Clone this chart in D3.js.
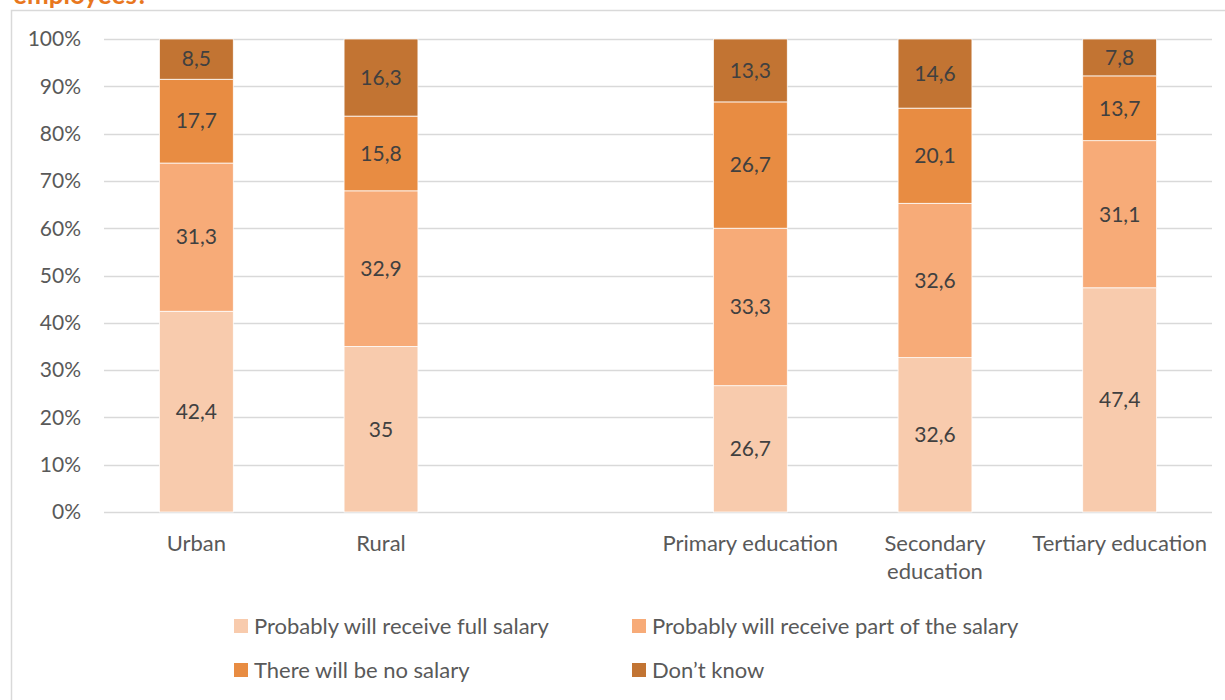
<!DOCTYPE html>
<html>
<head>
<meta charset="utf-8">
<script src="https://cdn.jsdelivr.net/npm/d3@7"></script>
<style>
  body { margin: 0; background: #fff; }
  svg { display: block; font-family: Lato, 'Open Sans', sans-serif; }
</style>
</head>
<body>
<div id="chart"></div>
<script>
const w = 1225, h = 700

// slots on the x axis, the empty one leaves the gap between the two groups
const slots = ['Urban', 'Rural', 'gap', 'Primary education', 'Secondary education', 'Tertiary education']
const categories = ['Urban', 'Rural', 'Primary education', 'Secondary education', 'Tertiary education']
const seriesNames = ['Probably will receive full salary', 'Probably will receive part of the salary', 'There will be no salary', 'Don\u2019t know']
const fullSalary = [42.4, 35, 26.7, 32.6, 47.4]
const partSalary = [31.3, 32.9, 33.3, 32.6, 31.1]
const noSalary = [17.7, 15.8, 26.7, 20.1, 13.7]
const dontKnow = [8.5, 16.3, 13.3, 14.6, 7.8]
const yTicks = [0, 0.1, 0.2, 0.3, 0.4, 0.5, 0.6, 0.7, 0.8, 0.9, 1]
const colors = ['#F8CBAD', '#F7AB78', '#E88C42', '#C27433']

const seriesValues = [fullSalary, partSalary, noSalary, dontKnow]
const rows = categories.map((c, i) => {
  const r = { category: c }
  seriesNames.forEach((s, j) => { r[s] = seriesValues[j][i] })
  return r
})

const margin = { left: 104, right: 13, top: 39, bottom: 188 }

const svg = d3.select('#chart').append('svg')
  .attr('width', w)
  .attr('height', h)

// outer frame
svg.append('rect')
  .attr('x', 11.5).attr('y', 10.5)
  .attr('width', 1240).attr('height', 720)
  .attr('fill', 'none')
  .attr('stroke', '#D9D9D9')
  .attr('stroke-width', 1.5)

// title, mostly cut off at the top like in the original
svg.append('text')
  .attr('x', 13).attr('y', 4)
  .attr('fill', '#E8771E')
  .attr('font-weight', 'bold')
  .attr('font-size', 26)
  .text('employees?')

const x = d3.scaleBand()
  .domain(slots)
  .range([margin.left, w - margin.right])
  .paddingInner(0.6)
  .paddingOuter(0.3)

const y = d3.scaleLinear()
  .domain([0, 1])
  .range([h - margin.bottom, margin.top])

// gridlines
svg.append('g')
  .selectAll('line')
  .data(yTicks)
  .enter()
  .append('line')
  .attr('x1', margin.left)
  .attr('x2', w - margin.right)
  .attr('y1', d => Math.round(y(d)) + 0.5)
  .attr('y2', d => Math.round(y(d)) + 0.5)
  .attr('stroke', '#D9D9D9')
  .attr('stroke-width', 1.5)

// y axis labels
svg.append('g')
  .selectAll('text')
  .data(yTicks)
  .enter()
  .append('text')
  .attr('x', 81)
  .attr('y', d => y(d))
  .attr('dy', '0.35em')
  .attr('text-anchor', 'end')
  .attr('font-size', 21)
  .attr('fill', '#595959')
  .text(d => d3.format('.0%')(d))

const stack = d3.stack().keys(seriesNames).offset(d3.stackOffsetExpand)
const stacked = stack(rows)

const fmt = v => String(v).replace('.', ',')

const layers = svg.append('g')
  .selectAll('g')
  .data(stacked)
  .enter()
  .append('g')
  .attr('fill', (d, i) => colors[i])

layers.selectAll('rect')
  .data(d => d)
  .enter()
  .append('rect')
  .attr('x', d => x(d.data.category))
  .attr('width', x.bandwidth())
  .attr('y', d => y(d[1]))
  .attr('height', d => y(d[0]) - y(d[1]))
  .attr('stroke', '#fff')
  .attr('stroke-width', 0.75)

layers.selectAll('text')
  .data(d => d.map(p => ({ p: p, key: d.key })))
  .enter()
  .append('text')
  .attr('x', d => x(d.p.data.category) + x.bandwidth() / 2)
  .attr('y', d => (y(d.p[0]) + y(d.p[1])) / 2)
  .attr('dy', '0.35em')
  .attr('text-anchor', 'middle')
  .attr('font-size', 21)
  .attr('fill', '#404040')
  .text(d => fmt(d.p.data[d.key]))

// category labels, wrapped like the original
const catLines = {
  'Urban': ['Urban'],
  'Rural': ['Rural'],
  'Primary education': ['Primary education'],
  'Secondary education': ['Secondary', 'education'],
  'Tertiary education': ['Tertiary education']
}
const catText = svg.append('g')
  .selectAll('text')
  .data(categories)
  .enter()
  .append('text')
  .attr('x', d => x(d) + x.bandwidth() / 2)
  .attr('y', 551)
  .attr('text-anchor', 'middle')
  .attr('font-size', 22)
  .attr('fill', '#595959')

catText.selectAll('tspan')
  .data(d => catLines[d].map(t => ({ t: t, c: d })))
  .enter()
  .append('tspan')
  .attr('x', d => x(d.c) + x.bandwidth() / 2)
  .attr('dy', (d, i) => i === 0 ? 0 : 28)
  .text(d => d.t)

// legend, two columns
const legendX = [234, 632]
const legendY = [626, 670]
const legend = svg.append('g')
  .selectAll('g')
  .data(seriesNames)
  .enter()
  .append('g')
  .attr('transform', (d, i) => `translate(${legendX[i % 2]},${legendY[Math.floor(i / 2)]})`)

legend.append('rect')
  .attr('x', 0).attr('y', -7)
  .attr('width', 14).attr('height', 14)
  .attr('fill', (d, i) => colors[i])

legend.append('text')
  .attr('x', 20)
  .attr('dy', '0.35em')
  .attr('font-size', 22)
  .attr('fill', '#595959')
  .text(d => d)
</script>
</body>
</html>
